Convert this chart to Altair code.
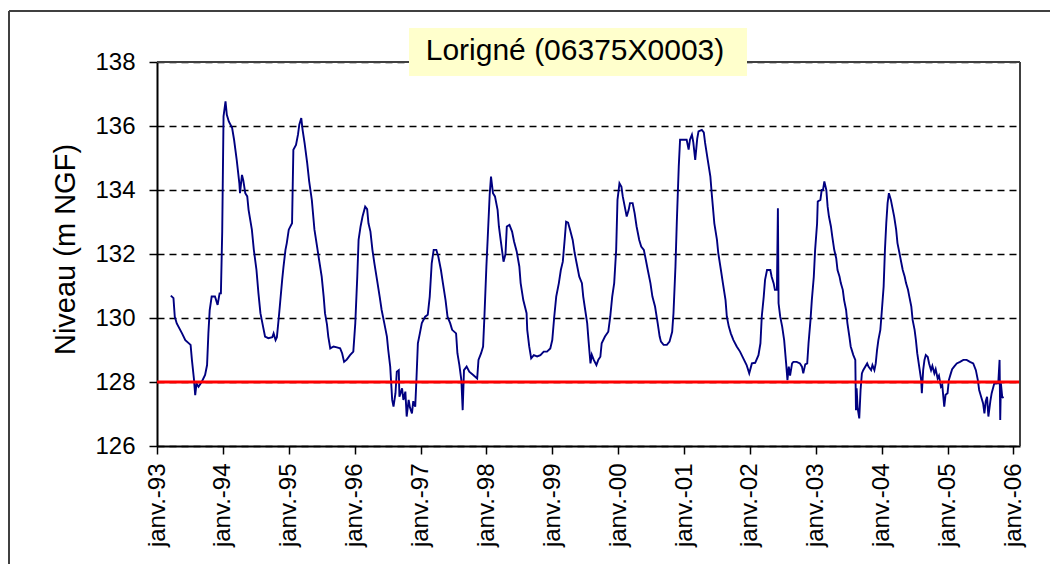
import altair as alt
import pandas as pd

title_text = "Lorigné (06375X0003)"
y_title = "Niveau (m NGF)"

years = [
    1993.21, 1993.25, 1993.27, 1993.30, 1993.38, 1993.43, 1993.51, 1993.53, 1993.56, 1993.58,
    1993.60, 1993.63, 1993.68, 1993.73, 1993.76, 1993.78, 1993.80, 1993.83, 1993.88, 1993.92,
    1993.95, 1993.97, 1993.99, 1994.01, 1994.04, 1994.06, 1994.09, 1994.14, 1994.17, 1994.21,
    1994.25, 1994.26, 1994.29, 1994.31, 1994.34, 1994.37, 1994.39, 1994.44, 1994.47, 1994.51,
    1994.54, 1994.57, 1994.61, 1994.64, 1994.69, 1994.75, 1994.77, 1994.80, 1994.82, 1994.85,
    1994.87, 1994.90, 1994.92, 1994.95, 1994.97, 1995.00, 1995.05, 1995.07, 1995.11, 1995.14,
    1995.16, 1995.19, 1995.21, 1995.24, 1995.28, 1995.31, 1995.35, 1995.39, 1995.43, 1995.46,
    1995.50, 1995.53, 1995.55, 1995.58, 1995.60, 1995.63, 1995.68, 1995.73, 1995.78, 1995.81,
    1995.84, 1995.88, 1995.93, 1995.98, 1996.01, 1996.04, 1996.06, 1996.09, 1996.12, 1996.16,
    1996.19, 1996.21, 1996.24, 1996.27, 1996.30, 1996.34, 1996.38, 1996.41, 1996.45, 1996.49,
    1996.51, 1996.54, 1996.57, 1996.59, 1996.62, 1996.64, 1996.67, 1996.68, 1996.72, 1996.74,
    1996.77, 1996.79, 1996.82, 1996.84, 1996.87, 1996.89, 1996.92, 1996.94, 1996.96, 1996.99,
    1997.02, 1997.07, 1997.11, 1997.14, 1997.17, 1997.20, 1997.24, 1997.27, 1997.31, 1997.34,
    1997.38, 1997.41, 1997.45, 1997.48, 1997.54, 1997.56, 1997.59, 1997.62, 1997.64, 1997.66,
    1997.70, 1997.74, 1997.80, 1997.86, 1997.88, 1997.92, 1997.95, 1997.97, 1998.00, 1998.02,
    1998.05, 1998.07, 1998.10, 1998.13, 1998.17, 1998.19, 1998.22, 1998.26, 1998.29, 1998.31,
    1998.35, 1998.39, 1998.42, 1998.46, 1998.50, 1998.52, 1998.56, 1998.61, 1998.62, 1998.65,
    1998.68, 1998.72, 1998.77, 1998.82, 1998.87, 1998.92, 1998.97, 1999.00, 1999.03, 1999.06,
    1999.10, 1999.13, 1999.16, 1999.19, 1999.21, 1999.24, 1999.27, 1999.31, 1999.34, 1999.37,
    1999.41, 1999.45, 1999.47, 1999.50, 1999.53, 1999.55, 1999.58, 1999.60, 1999.63, 1999.67,
    1999.70, 1999.73, 1999.75, 1999.80, 1999.85, 1999.88, 1999.91, 1999.94, 1999.97, 1999.99,
    2000.02, 2000.05, 2000.07, 2000.11, 2000.13, 2000.16, 2000.18, 2000.22, 2000.25, 2000.28,
    2000.32, 2000.35, 2000.39, 2000.42, 2000.45, 2000.49, 2000.52, 2000.56, 2000.60, 2000.63,
    2000.65, 2000.69, 2000.74, 2000.78, 2000.82, 2000.84, 2000.87, 2000.89, 2000.92, 2000.94,
    2000.99, 2001.04, 2001.07, 2001.09, 2001.12, 2001.14, 2001.17, 2001.20, 2001.22, 2001.27,
    2001.30, 2001.32, 2001.36, 2001.40, 2001.42, 2001.46, 2001.50, 2001.52, 2001.56, 2001.59,
    2001.63, 2001.65, 2001.68, 2001.71, 2001.75, 2001.80, 2001.85, 2001.90, 2001.95, 2001.99,
    2002.03, 2002.08, 2002.13, 2002.16, 2002.18, 2002.21, 2002.23, 2002.26, 2002.31, 2002.33,
    2002.36, 2002.38, 2002.41, 2002.425, 2002.435, 2002.46, 2002.49, 2002.52, 2002.55, 2002.57,
    2002.59, 2002.61, 2002.64, 2002.66, 2002.71, 2002.76, 2002.79, 2002.81, 2002.84, 2002.87,
    2002.89, 2002.92, 2002.94, 2002.97, 2002.99, 2003.02, 2003.03, 2003.07, 2003.09, 2003.11,
    2003.13, 2003.16, 2003.18, 2003.20, 2003.23, 2003.25, 2003.28, 2003.31, 2003.33, 2003.36,
    2003.38, 2003.41, 2003.43, 2003.46, 2003.48, 2003.51, 2003.53, 2003.57, 2003.60, 2003.61,
    2003.62, 2003.635, 2003.65, 2003.66, 2003.68, 2003.70, 2003.72, 2003.78, 2003.80, 2003.84,
    2003.86, 2003.89, 2003.91, 2003.93, 2003.95, 2003.98, 2004.00, 2004.03, 2004.05, 2004.07,
    2004.09, 2004.11, 2004.14, 2004.16, 2004.19, 2004.22, 2004.24, 2004.27, 2004.30, 2004.32,
    2004.35, 2004.37, 2004.40, 2004.42, 2004.45, 2004.47, 2004.50, 2004.52, 2004.54, 2004.57,
    2004.60, 2004.61, 2004.63, 2004.65, 2004.67, 2004.70, 2004.72, 2004.75, 2004.77, 2004.80,
    2004.82, 2004.85, 2004.87, 2004.90, 2004.92, 2004.95, 2004.97, 2005.00, 2005.02, 2005.05,
    2005.07, 2005.10, 2005.14, 2005.19, 2005.24, 2005.29, 2005.34, 2005.39, 2005.43, 2005.46,
    2005.48, 2005.51, 2005.54, 2005.56, 2005.58, 2005.60, 2005.62, 2005.65, 2005.67, 2005.71,
    2005.74, 2005.77, 2005.79, 2005.80, 2005.81, 2005.83, 2005.85,
]

levels = [
    130.70, 130.62, 130.04, 129.83, 129.52, 129.31, 129.16, 128.69, 128.11, 127.59,
    127.95, 127.85, 128.01, 128.22, 128.53, 129.52, 130.25, 130.67, 130.67, 130.41,
    130.77, 130.77, 132.70, 136.30, 136.77, 136.35, 136.14, 135.94, 135.57, 134.94,
    134.21, 133.90, 134.47, 134.30, 133.90, 133.80, 133.38, 132.76, 132.13, 131.50,
    130.77, 130.15, 129.73, 129.42, 129.37, 129.40, 129.52, 129.31, 129.40, 130.04,
    130.50, 131.19, 131.60, 132.13, 132.34, 132.76, 132.96, 135.26, 135.41, 135.73,
    136.04, 136.25, 135.88, 135.47, 134.84, 134.27, 133.69, 132.76, 132.23, 131.82,
    131.29, 130.67, 130.15, 129.80, 129.42, 129.05, 129.11, 129.08, 129.05, 128.90,
    128.63, 128.70, 128.84, 128.95, 129.84, 131.29, 132.44, 132.86, 133.17, 133.48,
    133.40, 132.96, 132.70, 132.13, 131.71, 131.19, 130.67, 130.25, 129.84, 129.42,
    129.00, 128.48, 127.44, 127.23, 127.65, 128.32, 128.37, 127.54, 127.80, 127.44,
    127.70, 126.92, 127.44, 127.20, 127.02, 127.40, 127.23, 128.17, 129.21, 129.52,
    129.84, 130.04, 130.10, 130.67, 131.71, 132.13, 132.13, 131.92, 131.50, 131.09,
    130.56, 130.04, 129.84, 129.63, 129.52, 128.90, 128.53, 128.06, 127.12, 128.37,
    128.48, 128.32, 128.22, 128.11, 128.69, 128.90, 129.11, 130.04, 131.61, 132.49,
    133.85, 134.42, 133.90, 133.80, 133.38, 132.86, 132.39, 131.76, 132.00, 132.86,
    132.91, 132.70, 132.39, 132.08, 131.61, 131.09, 130.56, 130.15, 129.63, 129.11,
    128.74, 128.84, 128.80, 128.84, 128.95, 128.95, 129.05, 129.31, 130.04, 130.67,
    131.09, 131.50, 131.76, 132.49, 133.01, 132.98, 132.76, 132.44, 132.03, 131.71,
    131.29, 131.09, 130.67, 130.25, 129.84, 129.31, 128.58, 128.85, 128.69, 128.53,
    128.70, 128.79, 129.21, 129.42, 129.57, 130.04, 130.67, 131.09, 132.13, 133.69,
    134.21, 134.10, 133.80, 133.38, 133.17, 133.38, 133.59, 133.59, 133.28, 132.86,
    132.44, 132.23, 132.13, 131.82, 131.50, 131.09, 130.67, 130.36, 129.84, 129.42,
    129.26, 129.16, 129.16, 129.26, 129.57, 130.15, 131.61, 132.96, 134.73, 135.57,
    135.57, 135.57, 135.26, 135.57, 135.73, 135.50, 134.94, 135.60, 135.83, 135.88,
    135.80, 135.47, 134.94, 134.42, 133.90, 132.96, 132.44, 132.03, 131.50, 131.09,
    130.56, 130.04, 129.73, 129.52, 129.31, 129.11, 128.95, 128.74, 128.53, 128.27,
    128.58, 128.60, 128.84, 129.21, 130.04, 130.67, 131.19, 131.50, 131.50, 131.29,
    131.09, 130.88, 130.88, 133.43, 130.46, 130.04, 129.73, 129.31, 128.58, 128.06,
    128.48, 128.20, 128.58, 128.63, 128.63, 128.58, 128.48, 128.27, 128.55, 128.58,
    129.21, 129.94, 130.56, 131.29, 132.13, 132.96, 133.64, 133.69, 134.00, 134.00,
    134.27, 134.00, 133.48, 133.17, 132.86, 132.55, 132.13, 131.87, 131.50, 131.30,
    131.09, 130.88, 130.56, 130.25, 129.84, 129.42, 129.11, 128.84, 128.69, 127.12,
    127.80, 127.20, 127.00, 126.86, 127.75, 128.27, 128.37, 128.58, 128.48, 128.37,
    128.53, 128.37, 128.58, 129.00, 129.31, 129.63, 130.15, 130.98, 132.13, 132.96,
    133.59, 133.90, 133.69, 133.48, 133.17, 132.76, 132.34, 132.03, 131.71, 131.50,
    131.29, 131.09, 130.88, 130.67, 130.36, 129.94, 129.63, 129.31, 128.90, 128.48,
    128.06, 127.65, 128.37, 128.69, 128.84, 128.78, 128.58, 128.37, 128.50, 128.27,
    128.40, 128.11, 128.20, 127.85, 127.90, 127.23, 127.60, 127.65, 128.06, 128.27,
    128.40, 128.48, 128.58, 128.63, 128.69, 128.69, 128.63, 128.58, 128.37, 128.06,
    127.75, 127.54, 127.33, 127.02, 127.40, 127.54, 126.92, 127.40, 127.65, 127.96,
    127.95, 127.96, 128.69, 126.81, 127.96, 127.54, 127.50,
]

threshold = [128]
year_ticks = list(range(1993, 2007))
level_ticks = [126, 128, 130, 132, 134, 136, 138]
x_domain = [1993, 2006.1]
y_domain = [126, 138]

W, H = 863, 384
FONT = "Liberation Sans"

df = pd.DataFrame({"year": years, "level": levels})
df_thr = pd.DataFrame({"level": threshold})
one = alt.Data(values=[{}])

x_scale = alt.Scale(domain=x_domain, nice=False, zero=False)
y_scale = alt.Scale(domain=y_domain, nice=False, zero=False)

x_axis = alt.Axis(
    values=year_ticks,
    labelExpr="'janv.-' + substring(toString(datum.value), 2, 4)",
    labelAngle=270, labelAlign="right", labelBaseline="middle",
    labelFontSize=24, labelColor="#000000", labelFont=FONT,
    labelPadding=9, labelFlush=False, labelOverlap=False,
    tickSize=8, tickColor="#000000", tickWidth=1.5,
    domainColor="#000000", domainWidth=2,
    grid=False, title=None,
)

y_axis = alt.Axis(
    values=level_ticks, format="d",
    labelFontSize=24, labelColor="#000000", labelFont=FONT,
    labelPadding=14, labelFlush=False,
    tickSize=8, tickColor="#000000", tickWidth=1.5,
    domainColor="#000000", domainWidth=2,
    grid=True, gridColor="#000000", gridDash=[7, 5], gridWidth=1.3,
    title=y_title, titleFontSize=29, titleFontWeight="normal", titleColor="#000000",
    titleFont=FONT, titleAngle=270, titleX=-83, titleY=187,
    titleAlign="center", titleBaseline="alphabetic",
)

line = alt.Chart(df).mark_line(color="#000080", strokeWidth=1.9).encode(
    x=alt.X("year:Q", scale=x_scale, axis=x_axis),
    y=alt.Y("level:Q", scale=y_scale, axis=y_axis),
)

rule = alt.Chart(df_thr).mark_rule(color="#FF0000", strokeWidth=3).encode(
    y=alt.Y("level:Q", scale=y_scale, axis=y_axis),
)

frame_top = alt.Chart(one).mark_rule(color="#404040", strokeWidth=2).encode(
    x=alt.value(0), x2=alt.value(W), y=alt.value(0)
)
frame_right = alt.Chart(one).mark_rule(color="#404040", strokeWidth=2).encode(
    x=alt.value(W), y=alt.value(0), y2=alt.value(H)
)
outer_top = alt.Chart(one).mark_rule(color="#404040", strokeWidth=2).encode(
    x=alt.value(-148), x2=alt.value(W + 60), y=alt.value(-51)
)
outer_left = alt.Chart(one).mark_rule(color="#404040", strokeWidth=2).encode(
    x=alt.value(-148), y=alt.value(-51), y2=alt.value(H + 140)
)
title_box = alt.Chart(one).mark_rect(fill="#FFFFCC").encode(
    x=alt.value(252), x2=alt.value(590), y=alt.value(-34), y2=alt.value(14)
)
title_label = alt.Chart(one).mark_text(
    text=title_text, font=FONT, fontSize=30, color="#000000",
    align="center", baseline="alphabetic",
).encode(x=alt.value(418), y=alt.value(-2))

chart = alt.layer(
    line, rule, frame_top, frame_right, outer_top, outer_left, title_box, title_label
).properties(
    width=W, height=H,
    autosize=alt.AutoSizeParams(type="none"),
    padding={"left": 149, "top": 54, "right": 30, "bottom": 118},
).configure(font=FONT).configure_view(strokeWidth=0)

chart.save("out.html", embed_options={"renderer": "svg", "actions": False})
